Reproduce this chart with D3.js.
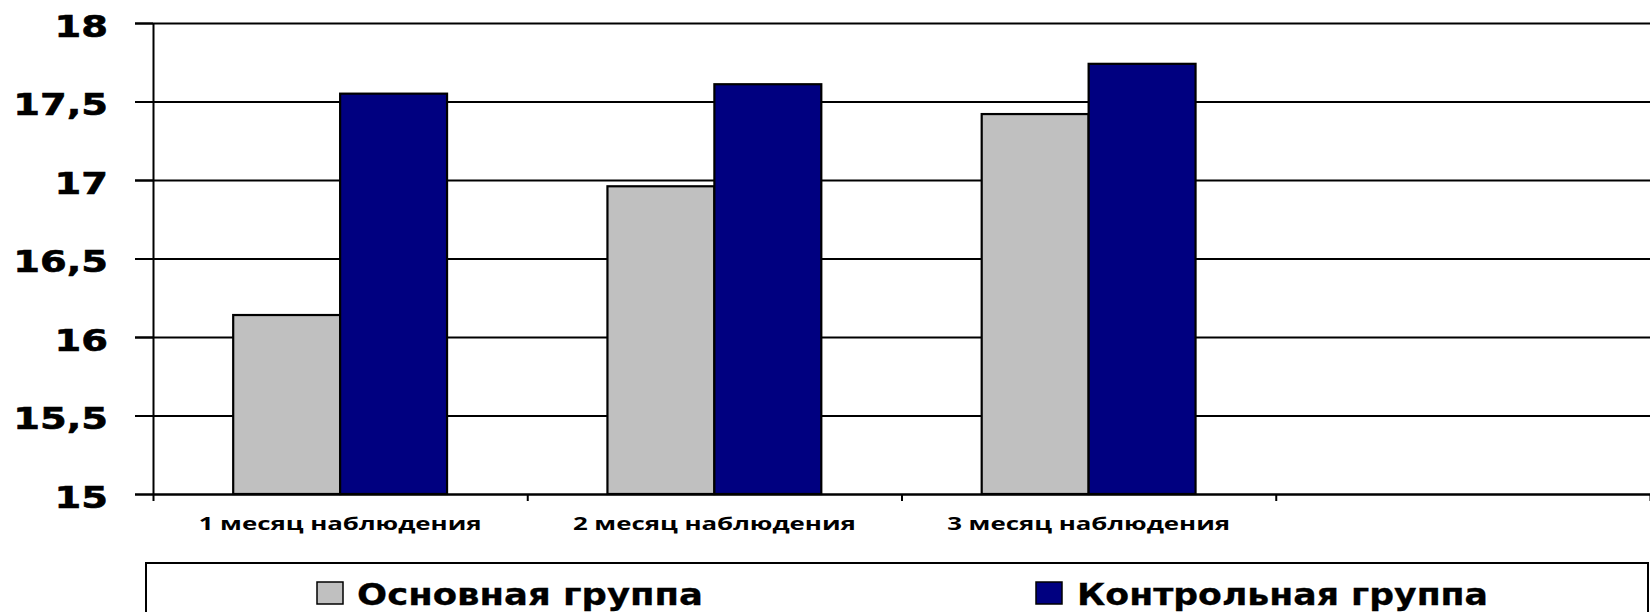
<!DOCTYPE html>
<html>
<head>
<meta charset="utf-8">
<script src="https://cdn.jsdelivr.net/npm/d3@7"></script>
<style>
  html, body { margin: 0; padding: 0; background: #fff; }
  svg { display: block; }
</style>
</head>
<body>
<svg id="chart" width="1650" height="612"></svg>
<script>
// Chart data
const categories = ["1 месяц наблюдения", "2 месяц наблюдения", "3 месяц наблюдения"];
const seriesNames = ["Основная группа", "Контрольная группа"];
const mainGroup = [16.14, 16.96, 17.42];
const controlGroup = [17.55, 17.61, 17.74];
const yTicks = [15, 15.5, 16, 16.5, 17, 17.5, 18];
const yTickLabels = ["15", "15,5", "16", "16,5", "17", "17,5", "18"];
const seriesColors = ["#C0C0C0", "#000080"];

const W = 1650, H = 612;
const plot = { left: 153, right: 1650, top: 23, bottom: 494 };
const slotCount = 4; // three month groups plus one empty slot on the right
const textStretch = 1.24;

const svg = d3.select("#chart");

const y = d3.scaleLinear().domain([15, 18]).range([plot.bottom, plot.top]);
const x = d3.scaleBand().domain(d3.range(slotCount)).range([plot.left, plot.right]).padding(0);
const xSeries = d3.scaleBand().domain(d3.range(seriesNames.length))
  .range([0, x.bandwidth()]).paddingInner(0).paddingOuter(0.75);

// Horizontal gridlines (they start at the outer end of the y ticks)
const tickLen = 18;
svg.append("g")
  .attr("transform", `translate(${plot.left - tickLen},0)`)
  .call(d3.axisRight(y).tickValues(yTicks).tickSize(plot.right - plot.left + tickLen).tickFormat(""))
  .call(g => g.select(".domain").remove())
  .call(g => g.selectAll(".tick line").attr("stroke", "#000").attr("stroke-width", 2));

// Bars
const rows = categories.map((c, i) => [mainGroup[i], controlGroup[i]]);
const groups = svg.append("g").selectAll("g")
  .data(rows).join("g")
  .attr("transform", (d, i) => `translate(${x(i)},0)`);
groups.selectAll("rect")
  .data(d => d.map((v, s) => ({ v, s })))
  .join("rect")
  .attr("x", d => xSeries(d.s))
  .attr("width", xSeries.bandwidth())
  .attr("y", d => y(d.v))
  .attr("height", d => y(15) - y(d.v))
  .attr("fill", d => seriesColors[d.s])
  .attr("stroke", "#000")
  .attr("stroke-width", 2.2);

// Y axis with labels
const yAxis = svg.append("g")
  .attr("transform", `translate(${plot.left},0)`)
  .call(d3.axisLeft(y).tickValues(yTicks).tickSize(tickLen).tickPadding(27)
    .tickFormat((d, i) => yTickLabels[i]));
yAxis.select(".domain").attr("stroke", "#000").attr("stroke-width", 2)
  .attr("d", `M0.5,${plot.top}V${plot.bottom}`);
yAxis.selectAll(".tick line").attr("stroke", "#000").attr("stroke-width", 2);
yAxis.selectAll(".tick text")
  .attr("font-family", "DejaVu Sans, Verdana, sans-serif")
  .attr("font-weight", "bold")
  .attr("font-size", 31)
  .attr("fill", "#000")
  .attr("stroke", "#000")
  .attr("stroke-width", 0.6)
  .attr("dy", "0.42em")
  .attr("x", -(tickLen + 27) / textStretch)
  .attr("transform", `scale(${textStretch},1)`);

// X axis: baseline with ticks at the slot boundaries
const xEdges = d3.scaleLinear().domain([0, slotCount]).range([plot.left, plot.right]);
const xAxis = svg.append("g")
  .attr("transform", `translate(0,${plot.bottom})`)
  .call(d3.axisBottom(xEdges).tickValues(d3.range(slotCount + 1)).tickSize(7).tickSizeOuter(0).tickFormat(""));
xAxis.select(".domain").attr("stroke", "#000").attr("stroke-width", 2);
xAxis.selectAll(".tick line").attr("stroke", "#000").attr("stroke-width", 2);

// Category labels
svg.append("g").selectAll("text")
  .data(categories).join("text")
  .attr("x", (d, i) => x(i) + x.bandwidth() / 2)
  .attr("y", 530)
  .attr("text-anchor", "middle")
  .attr("font-family", "Open Sans, sans-serif")
  .attr("font-weight", "bold")
  .attr("font-size", 18)
  .attr("textLength", 283)
  .attr("lengthAdjust", "spacingAndGlyphs")
  .attr("fill", "#000")
  .text(d => d);

// Legend
const legend = svg.append("g");
legend.append("rect")
  .attr("x", 146).attr("y", 563)
  .attr("width", 1502).attr("height", 80)
  .attr("fill", "#fff").attr("stroke", "#000").attr("stroke-width", 2);
const legendItems = [
  { sx: 317, tx: 357, len: 346 },
  { sx: 1036, tx: 1077, len: 411 }
];
legendItems.forEach((it, i) => {
  legend.append("rect")
    .attr("x", it.sx).attr("y", 582)
    .attr("width", 26).attr("height", 22)
    .attr("fill", seriesColors[i]).attr("stroke", "#000").attr("stroke-width", 1.5);
  legend.append("text")
    .attr("x", it.tx).attr("y", 605)
    .attr("font-family", "DejaVu Sans, Verdana, sans-serif")
    .attr("font-weight", "bold")
    .attr("font-size", 31)
    .attr("textLength", it.len)
    .attr("lengthAdjust", "spacingAndGlyphs")
    .attr("fill", "#000")
    .attr("stroke", "#000")
    .attr("stroke-width", 0.3)
    .text(seriesNames[i]);
});
</script>
</body>
</html>
